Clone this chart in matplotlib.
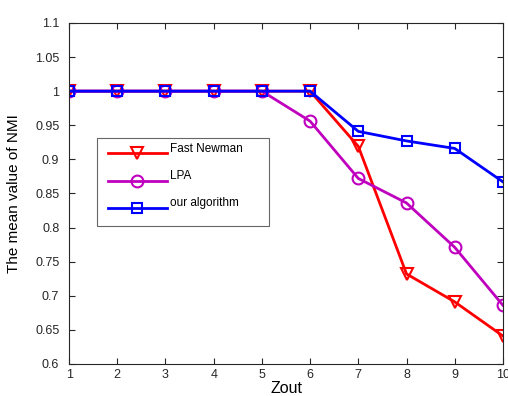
import matplotlib
matplotlib.use('Agg')
import matplotlib.pyplot as plt

plt.rcParams['font.family'] = ['Liberation Sans', 'DejaVu Sans']

zout = [1, 2, 3, 4, 5, 6, 7, 8, 9, 10]
fast_newman = [1.0, 1.0, 1.0, 1.0, 1.0, 1.0, 0.919, 0.732, 0.691, 0.641]
lpa = [1.0, 1.0, 1.0, 1.0, 1.0, 0.956, 0.872, 0.836, 0.771, 0.686]
ours = [1.0, 1.0, 1.0, 1.0, 1.0, 1.0, 0.941, 0.927, 0.916, 0.867]

fig = plt.figure(figsize=(5.08, 3.96), dpi=100)
ax = fig.add_axes([0.136, 0.081, 0.854, 0.861])

ax.plot(zout, fast_newman, color='#ff0000', lw=2, marker='v', ms=9,
        mfc='none', mew=1.5, label='Fast Newman')
ax.plot(zout, lpa, color='#bf00bf', lw=2, marker='o', ms=8.5,
        mfc='none', mew=1.5, label='LPA')
ax.plot(zout, ours, color='#0000ff', lw=2, marker='s', ms=7.5,
        mfc='none', mew=1.5, label='our algorithm')

ax.set_xlim(1, 10)
ax.set_ylim(0.6, 1.1)
ax.set_xticks(zout)
yt = [0.6, 0.65, 0.7, 0.75, 0.8, 0.85, 0.9, 0.95, 1.0, 1.05, 1.1]
ax.set_yticks(yt)
ax.set_yticklabels(['0.6', '0.65', '0.7', '0.75', '0.8', '0.85', '0.9',
                    '0.95', '1', '1.05', '1.1'])
ax.tick_params(direction='in', top=True, right=True, labelsize=9,
               length=4, colors='#262626')
ax.tick_params(axis='y', pad=7)
ax.tick_params(axis='x', pad=4)
for s in ax.spines.values():
    s.set_color('#262626')

ax.set_xlabel('Zout', fontsize=11.5, labelpad=0)
ax.set_ylabel('The mean value of NMI', fontsize=11, labelpad=10)

leg = ax.legend(loc='lower left', bbox_to_anchor=(0.065, 0.405, 0.396, 0.26),
                mode='expand', fancybox=False, edgecolor='#404040',
                fontsize=8.5, handlelength=5.0, borderaxespad=0,
                labelspacing=1.3, borderpad=0.9, handletextpad=0.3)
leg.get_frame().set_linewidth(0.8)
# text sits a little above the line, as in the original
for t in leg.get_texts():
    t.set_y(6)

fig.savefig('out.png', dpi=100)
